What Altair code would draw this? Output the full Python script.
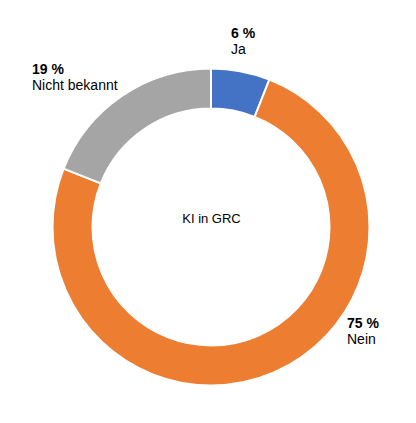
import altair as alt
import pandas as pd

categories = ["Ja", "Nein", "Nicht bekannt"]
values = [6, 75, 19]
colors = ["#4472C4", "#ED7D31", "#A5A5A5"]
center_label = "KI in GRC"

df = pd.DataFrame({"cat": categories, "val": values, "ord": list(range(len(categories)))})

CX, CY = 203, 219

donut = alt.Chart(df).mark_arc(
    innerRadius=118.5, outerRadius=158.5, stroke="white", strokeWidth=2
).encode(
    theta=alt.Theta("val:Q", stack=True),
    order=alt.Order("ord:Q"),
    color=alt.Color("cat:N", scale=alt.Scale(domain=categories, range=colors), legend=None),
    x=alt.value(CX),
    y=alt.value(CY),
)

FONT = "Liberation Sans"

# label anchor positions (style), per category
label_pos = {"Ja": (223, 30), "Nein": (339, 320), "Nicht bekannt": (24, 66)}

layers = [donut]
for c, v in zip(categories, values):
    px, py = label_pos[c]
    sub = df[df.cat == c]
    layers.append(
        alt.Chart(sub).mark_text(align="left", baseline="alphabetic", font=FONT, fontSize=14,
                                 fontWeight="bold", color="#000000")
        .encode(text=alt.Text("label:N"), x=alt.value(px), y=alt.value(py))
        .transform_calculate(label="datum.val + ' %'")
    )
    layers.append(
        alt.Chart(sub).mark_text(align="left", baseline="alphabetic", font=FONT, fontSize=14,
                                 color="#000000")
        .encode(text=alt.Text("cat:N"), x=alt.value(px), y=alt.value(py + 16))
    )

center = alt.Chart(pd.DataFrame({"t": [center_label]})).mark_text(
    align="center", baseline="alphabetic", font=FONT, fontSize=13, color="#000000"
).encode(text="t:N", x=alt.value(CX + 0.5), y=alt.value(215))
layers.append(center)

chart = alt.layer(*layers).properties(
    width=400, height=407, autosize=alt.AutoSizeParams(type="none"), padding=0
).configure_view(stroke=None)

chart.save("out.html", embed_options={"renderer": "svg", "actions": False})
